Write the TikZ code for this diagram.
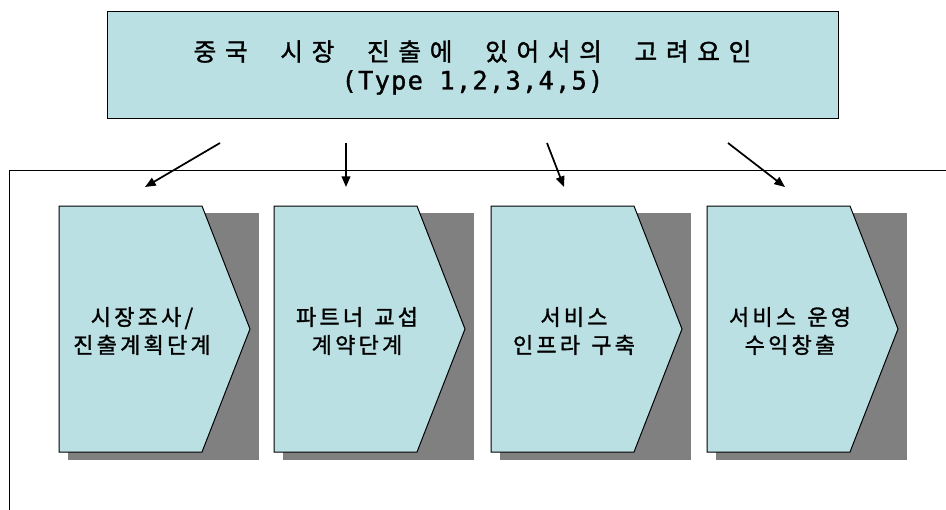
\documentclass[tikz,border=0pt]{standalone}
\usepackage{fontspec}
\usepackage{tikz}
\usetikzlibrary{arrows.meta}
\newfontfamily\krfont[FakeBold=1.4]{Noto Sans CJK KR}
\newfontfamily\typefont[LetterSpace=5, FakeBold=1.2]{DejaVu Sans Mono}
\newlength\charsep
\newlength\wordsep
% spread the letters: ~ marks a word gap
\def\spaced#1{\spacedA#1\relax}
\def\spacedA#1{\ifx\relax#1\unskip\else\ifx~#1\hspace{\wordsep}\else#1\hspace{\charsep}\fi\expandafter\spacedA\fi}
\definecolor{phaseblue}{HTML}{BBE0E3}
\definecolor{shadowgray}{HTML}{808080}

\begin{document}
\begin{tikzpicture}[x=0.75pt, y=-0.75pt,
        phase/.style={draw=black, line width=0.75pt, fill=phaseblue},
        shadowbox/.style={fill=shadowgray},
        phaselabel/.style={align=center, font=\krfont\fontsize{16.5pt}{21pt}\selectfont
            \setlength\charsep{2.4pt}\setlength\wordsep{6pt}},
        arr/.style={-{Triangle[length=8pt, width=6.5pt]}, line width=1.3pt}]
            \useasboundingbox (0,0) rectangle (946,510);
            \draw[line width=0.75pt] (946,170) -- (9.5,170) -- (9.5,510);

            \draw[phase] (107,12) rectangle (838,118);
            \node[align=center, font=\fontsize{18.5pt}{21.5pt}\selectfont
                \setlength\charsep{6.5pt}\setlength\wordsep{18pt}] (head) at (472.5,67.5)
                {{\krfont\spaced{중국~시장~진출에~있어서의~고려요인}}\\{\typefont\fontsize{19pt}{21.5pt}\selectfont (Type 1,2,3,4,5)}};

            \foreach \x/\t [count=\i] in {59/{\spaced{시장조사/}\\\spaced{진출계획단계}},
                    274/{\spaced{파트너~교섭}\\\spaced{계약단계}},
                    491/{\spaced{서비스}\\\spaced{인프라~구축}},
                    707/{\spaced{서비스~운영}\\\spaced{수익창출}}} {
                \fill[shadowbox] (\x+9,213) rectangle (\x+200,460);
                \draw[phase] (\x,206) -- (\x+143,206) -- (\x+191,329) -- (\x+143,452) -- (\x,452) -- cycle;
                \node[phaselabel] (p\i) at (\x+83,331) {\t};
            }

            \coordinate (a1) at (220,143);
            \coordinate (b1) at (145,187);
            \coordinate (a2) at (346,143);
            \coordinate (b2) at (346,187);
            \coordinate (a3) at (547,143);
            \coordinate (b3) at (564,187);
            \coordinate (a4) at (728,143);
            \coordinate (b4) at (785,187);
            \foreach \i in {1,...,4}
                \draw[arr] (a\i) -- (b\i);
        \end{tikzpicture}
\end{document}
